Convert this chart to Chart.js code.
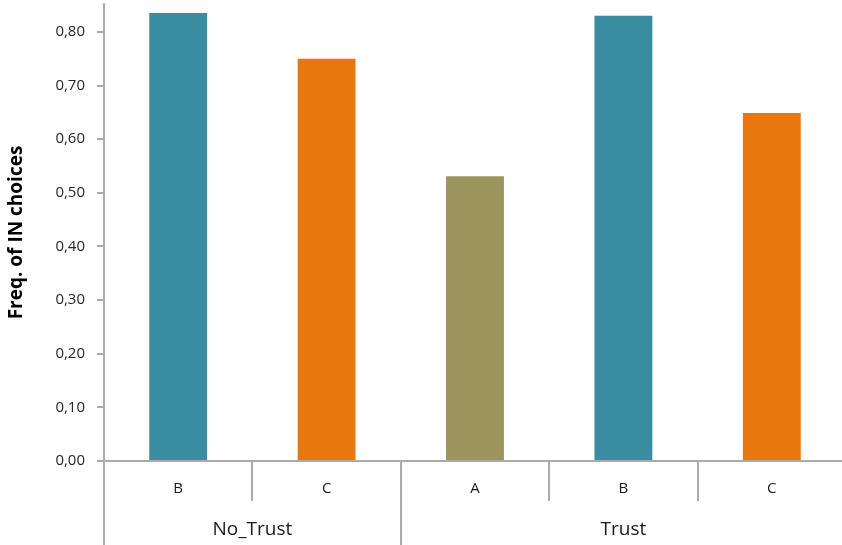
<!DOCTYPE html>
<html>
<head>
<meta charset="utf-8">
<script src="https://cdn.jsdelivr.net/npm/chart.js@4/dist/chart.umd.min.js"></script>
<style>
html,body{margin:0;padding:0;background:#fff;overflow:hidden;width:842px;height:545px;}
canvas{display:block;}
</style>
</head>
<body>
<canvas id="c" width="850" height="545"></canvas>
<script>
const categories = ['B', 'C', 'A', 'B', 'C'];
const groups = ['No_Trust', 'No_Trust', 'Trust', 'Trust', 'Trust'];
const values = [0.835, 0.750, 0.531, 0.830, 0.649];
const barColors = ['#3A8CA1', '#E8770F', '#9C955E', '#3A8CA1', '#E8770F'];
const yTickValues = [0, 0.1, 0.2, 0.3, 0.4, 0.5, 0.6, 0.7, 0.8];
const yMax = 0.852;
const yTitle = 'Freq. of IN choices';

const axisGrey = '#ababab';

const groupPlugin = {
  id: 'groupAxis',
  afterDraw(chart) {
    const ctx = chart.ctx;
    const xs = chart.scales.x;
    const area = chart.chartArea;
    const n = categories.length;
    const half = (xs.getPixelForValue(1) - xs.getPixelForValue(0)) / 2;
    ctx.save();
    ctx.strokeStyle = axisGrey;
    ctx.lineWidth = 2;
    for (let i = 1; i < n; i++) {
      const x = Math.round(xs.getPixelForValue(i) - half);
      const isGroupEdge = groups[i] !== groups[i - 1];
      ctx.beginPath();
      ctx.moveTo(x, area.bottom);
      ctx.lineTo(x, isGroupEdge ? chart.height : area.bottom + 40);
      ctx.stroke();
    }
    const x0 = Math.round(xs.getPixelForValue(0) - half);
    ctx.beginPath();
    ctx.moveTo(x0, area.bottom);
    ctx.lineTo(x0, chart.height);
    ctx.stroke();
    ctx.fillStyle = '#1a1a1a';
    ctx.font = '19px "Open Sans"';
    ctx.textAlign = 'center';
    ctx.textBaseline = 'middle';
    let start = 0;
    for (let i = 1; i <= n; i++) {
      if (i === n || groups[i] !== groups[start]) {
        const cx = (xs.getPixelForValue(start) + xs.getPixelForValue(i - 1)) / 2;
        ctx.fillText(groups[start], cx, area.bottom + 69);
        start = i;
      }
    }
    ctx.restore();
  }
};

new Chart(document.getElementById('c'), {
  type: 'bar',
  data: {
    labels: categories,
    datasets: [{
      data: values,
      backgroundColor: barColors,
      borderWidth: 0,
      barPercentage: 0.39,
      categoryPercentage: 1.0
    }]
  },
  options: {
    responsive: false,
    animation: false,
    layout: { padding: { top: 4, right: 4, left: 0, bottom: 0 } },
    plugins: {
      legend: { display: false },
      tooltip: { enabled: false }
    },
    scales: {
      x: {
        grid: { display: false },
        border: { display: true, color: axisGrey, width: 2 },
        ticks: {
          color: '#1a1a1a',
          font: { family: '"Open Sans"', size: 15 },
          padding: 11,
          maxRotation: 0
        },
        afterFit(scale) { scale.height = 84; scale.paddingLeft = 0; scale.paddingRight = 0; }
      },
      y: {
        min: 0,
        max: yMax,
        afterBuildTicks(scale) {
          scale.ticks = yTickValues.map(v => ({ value: v }));
        },
        grid: {
          display: true,
          drawOnChartArea: false,
          drawTicks: true,
          tickLength: 7,
          color: axisGrey,
          lineWidth: 2
        },
        border: { display: true, color: axisGrey, width: 2 },
        ticks: {
          color: '#262626',
          font: { family: '"Open Sans"', size: 15 },
          padding: 12,
          callback(v) { return Number(v).toFixed(2).replace('.', ','); }
        },
        title: {
          display: true,
          text: yTitle,
          color: '#000',
          font: { family: '"Open Sans"', size: 19, weight: 'bold' },
          padding: { top: 5, bottom: 0 }
        },
        afterFit(scale) { scale.width = 104; scale.paddingTop = 0; scale.paddingBottom = 0; }
      }
    }
  },
  plugins: [groupPlugin]
});
</script>
</body>
</html>
